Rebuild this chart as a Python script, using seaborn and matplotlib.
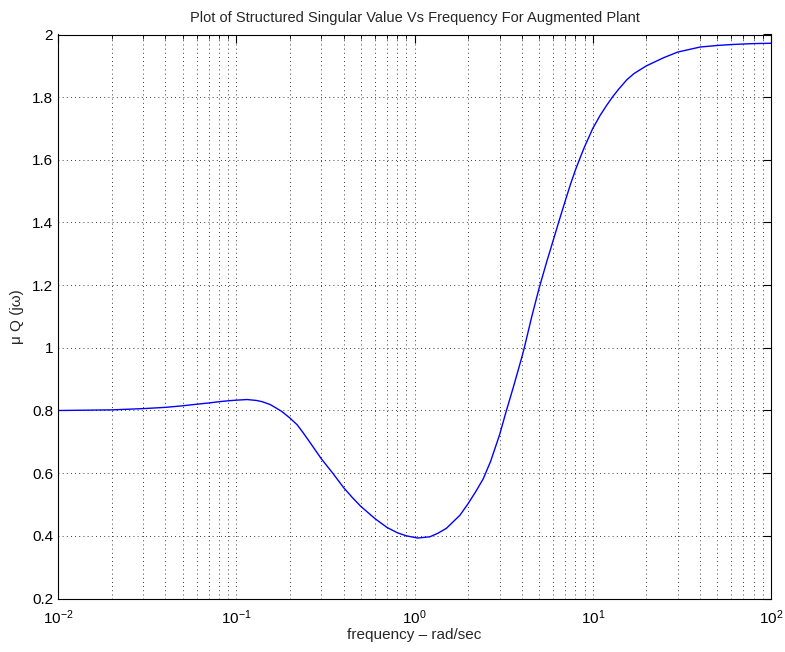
import matplotlib
matplotlib.use("Agg")
import matplotlib.pyplot as plt
import matplotlib.ticker as mticker
import seaborn as sns
import pandas as pd

freq = [0.01, 0.02, 0.03, 0.04, 0.05, 0.06, 0.07, 0.08, 0.09, 0.10,
        0.115, 0.13, 0.14, 0.155, 0.165, 0.18, 0.2, 0.22, 0.238, 0.26,
        0.3, 0.35, 0.4, 0.45, 0.5, 0.6, 0.7, 0.8, 0.9, 1.04,
        1.22, 1.35, 1.51, 1.8, 2.0, 2.2, 2.43, 2.67, 3.0, 3.26,
        3.6, 4.0, 4.13, 4.54, 5.0, 5.5, 6.0, 6.47, 7.0, 7.5,
        8.0, 8.5, 9.0, 10, 11, 12, 13, 14, 15.5, 17,
        20, 25, 30, 40, 50, 60, 80, 100]
mu = [0.800, 0.802, 0.806, 0.810, 0.815, 0.820, 0.824, 0.828, 0.831, 0.833,
      0.835, 0.832, 0.828, 0.819, 0.810, 0.797, 0.776, 0.754, 0.728, 0.697,
      0.646, 0.598, 0.554, 0.521, 0.494, 0.455, 0.427, 0.410, 0.400, 0.393,
      0.397, 0.408, 0.424, 0.466, 0.503, 0.540, 0.582, 0.637, 0.722, 0.795,
      0.878, 0.970, 1.000, 1.098, 1.190, 1.272, 1.343, 1.405, 1.468, 1.522,
      1.568, 1.607, 1.642, 1.700, 1.742, 1.775, 1.803, 1.826, 1.855, 1.875,
      1.900, 1.926, 1.944, 1.960, 1.965, 1.968, 1.971, 1.972]

title = "Plot of Structured Singular Value Vs Frequency For Augmented Plant"
xlabel = "frequency \u2013 rad/sec"
ylabel = "\u03bc Q (j\u03c9)"
yticks = [0.2, 0.4, 0.6, 0.8, 1.0, 1.2, 1.4, 1.6, 1.8, 2.0]

sns.set_theme(style="white")
plt.rcParams['font.family'] = ['Liberation Sans', 'DejaVu Sans']
plt.rcParams['mathtext.fontset'] = 'custom'
plt.rcParams['mathtext.rm'] = 'Liberation Sans'
plt.rcParams['mathtext.it'] = 'Liberation Sans:italic'
plt.rcParams['xtick.direction'] = 'in'
plt.rcParams['ytick.direction'] = 'in'

df = pd.DataFrame({"freq": freq, "mu": mu})

fig = plt.figure(figsize=(7.85, 6.52), dpi=100)
ax = fig.add_axes([58/785, 1 - 598.5/652, (771-58)/785, (598.5-34.5)/652])
sns.lineplot(data=df, x="freq", y="mu", ax=ax, color=(0, 0, 1), linewidth=1.0,
             estimator=None, sort=False)
ax.set_xscale("log")
ax.set_xlim(1e-2, 1e2)
ax.set_ylim(0.2, 2.0)
ax.set_yticks(yticks)
ax.yaxis.set_major_formatter(mticker.FormatStrFormatter('%g'))
ax.xaxis.set_minor_locator(mticker.LogLocator(base=10, subs=range(2, 10), numticks=20))
ax.xaxis.set_minor_formatter(mticker.NullFormatter())

ax.grid(True, which='major', axis='both', color='black', linestyle=(0, (1, 4)), linewidth=0.6)
ax.grid(True, which='minor', axis='x', color='black', linestyle=(0, (1, 4)), linewidth=0.6)

ax.tick_params(which='both', top=True, right=True, labelsize=11, colors='black')
ax.tick_params(which='major', length=6, width=0.8)
ax.tick_params(which='minor', length=3, width=0.6)
ax.tick_params(axis='x', which='major', pad=7)
for s in ax.spines.values():
    s.set_color('black')
    s.set_linewidth(0.8)

ax.set_title(title, fontsize=10.5, pad=9)
ax.set_xlabel(xlabel, fontsize=11, labelpad=1)
ax.set_ylabel(ylabel, fontsize=11, labelpad=6)

fig.savefig("out.png", dpi=100)
